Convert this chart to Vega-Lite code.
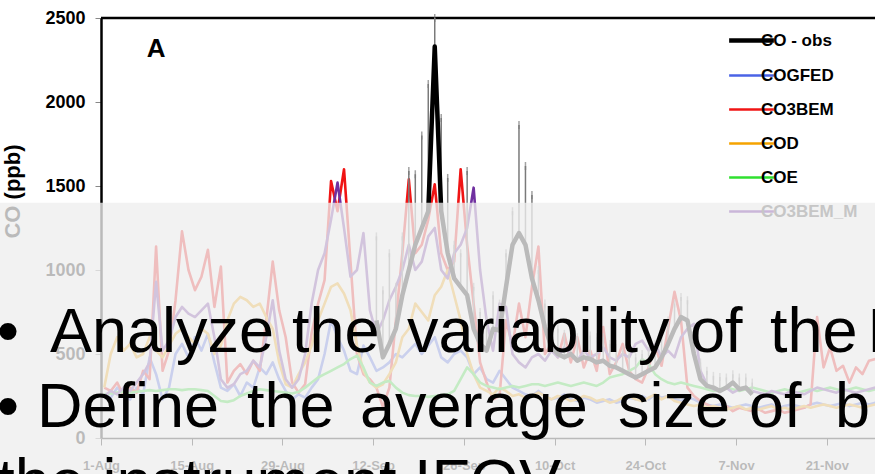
{
  "$schema": "https://vega.github.io/schema/vega-lite/v6.json",
  "width": 774,
  "height": 420,
  "autosize": {"type": "none"},
  "padding": {"left": 101, "top": 18, "right": 0, "bottom": 36},
  "background": "#ffffff",
  "config": {
    "view": {"stroke": null},
    "font": "Liberation Sans",
    "axis": {"grid": false, "labelFont": "Liberation Sans", "titleFont": "Liberation Sans"}
  },
  "datasets": {
    "models": [
      {"date": "2010-08-01T12:00", "COGFED": 260, "CO3BEM": 300, "COD": 300, "COE": 260, "CO3BEM_M": 250},
      {"date": "2010-08-02T12:00", "COGFED": 240, "CO3BEM": 280, "COD": 500, "COE": 265, "CO3BEM_M": 280},
      {"date": "2010-08-03T12:00", "COGFED": 300, "CO3BEM": 330, "COD": 600, "COE": 270, "CO3BEM_M": 260},
      {"date": "2010-08-04T12:00", "COGFED": 260, "CO3BEM": 250, "COD": 520, "COE": 275, "CO3BEM_M": 300},
      {"date": "2010-08-05T12:00", "COGFED": 230, "CO3BEM": 300, "COD": 560, "COE": 270, "CO3BEM_M": 280},
      {"date": "2010-08-06T12:00", "COGFED": 300, "CO3BEM": 270, "COD": 480, "COE": 275, "CO3BEM_M": 330},
      {"date": "2010-08-07T12:00", "COGFED": 260, "CO3BEM": 400, "COD": 500, "COE": 280, "CO3BEM_M": 380},
      {"date": "2010-08-08T12:00", "COGFED": 480, "CO3BEM": 350, "COD": 600, "COE": 285, "CO3BEM_M": 450},
      {"date": "2010-08-09T12:00", "COGFED": 380, "CO3BEM": 1140, "COD": 520, "COE": 280, "CO3BEM_M": 930},
      {"date": "2010-08-10T12:00", "COGFED": 230, "CO3BEM": 400, "COD": 480, "COE": 285, "CO3BEM_M": 520},
      {"date": "2010-08-11T12:00", "COGFED": 300, "CO3BEM": 520, "COD": 550, "COE": 290, "CO3BEM_M": 580},
      {"date": "2010-08-12T12:00", "COGFED": 500, "CO3BEM": 820, "COD": 620, "COE": 290, "CO3BEM_M": 720},
      {"date": "2010-08-13T12:00", "COGFED": 560, "CO3BEM": 1230, "COD": 650, "COE": 285, "CO3BEM_M": 780},
      {"date": "2010-08-14T12:00", "COGFED": 480, "CO3BEM": 1000, "COD": 600, "COE": 290, "CO3BEM_M": 740},
      {"date": "2010-08-15T12:00", "COGFED": 600, "CO3BEM": 880, "COD": 560, "COE": 290, "CO3BEM_M": 720},
      {"date": "2010-08-16T12:00", "COGFED": 520, "CO3BEM": 960, "COD": 650, "COE": 285, "CO3BEM_M": 760},
      {"date": "2010-08-17T12:00", "COGFED": 620, "CO3BEM": 1120, "COD": 620, "COE": 280, "CO3BEM_M": 800},
      {"date": "2010-08-18T12:00", "COGFED": 450, "CO3BEM": 780, "COD": 500, "COE": 250, "CO3BEM_M": 600},
      {"date": "2010-08-19T12:00", "COGFED": 300, "CO3BEM": 1020, "COD": 550, "COE": 220, "CO3BEM_M": 350},
      {"date": "2010-08-20T12:00", "COGFED": 280, "CO3BEM": 330, "COD": 700, "COE": 215, "CO3BEM_M": 300},
      {"date": "2010-08-21T12:00", "COGFED": 320, "CO3BEM": 400, "COD": 800, "COE": 225, "CO3BEM_M": 320},
      {"date": "2010-08-22T12:00", "COGFED": 250, "CO3BEM": 440, "COD": 840, "COE": 250, "CO3BEM_M": 380},
      {"date": "2010-08-23T12:00", "COGFED": 330, "CO3BEM": 380, "COD": 820, "COE": 265, "CO3BEM_M": 400},
      {"date": "2010-08-24T12:00", "COGFED": 300, "CO3BEM": 460, "COD": 780, "COE": 280, "CO3BEM_M": 460},
      {"date": "2010-08-25T12:00", "COGFED": 420, "CO3BEM": 400, "COD": 800, "COE": 290, "CO3BEM_M": 420},
      {"date": "2010-08-26T12:00", "COGFED": 380, "CO3BEM": 700, "COD": 720, "COE": 285, "CO3BEM_M": 600},
      {"date": "2010-08-27T12:00", "COGFED": 450, "CO3BEM": 1050, "COD": 650, "COE": 280, "CO3BEM_M": 820},
      {"date": "2010-08-28T12:00", "COGFED": 350, "CO3BEM": 760, "COD": 450, "COE": 275, "CO3BEM_M": 520},
      {"date": "2010-08-29T12:00", "COGFED": 280, "CO3BEM": 600, "COD": 320, "COE": 270, "CO3BEM_M": 350},
      {"date": "2010-08-30T12:00", "COGFED": 230, "CO3BEM": 330, "COD": 300, "COE": 265, "CO3BEM_M": 300},
      {"date": "2010-08-31T12:00", "COGFED": 260, "CO3BEM": 270, "COD": 380, "COE": 275, "CO3BEM_M": 350},
      {"date": "2010-09-01T12:00", "COGFED": 240, "CO3BEM": 320, "COD": 450, "COE": 300, "CO3BEM_M": 500},
      {"date": "2010-09-02T12:00", "COGFED": 300, "CO3BEM": 625, "COD": 550, "COE": 330, "CO3BEM_M": 800},
      {"date": "2010-09-03T12:00", "COGFED": 350, "CO3BEM": 800, "COD": 700, "COE": 360, "CO3BEM_M": 1000},
      {"date": "2010-09-04T12:00", "COGFED": 500, "CO3BEM": 940, "COD": 800, "COE": 380, "CO3BEM_M": 1100},
      {"date": "2010-09-05T12:00", "COGFED": 700, "CO3BEM": 1530, "COD": 900, "COE": 400, "CO3BEM_M": 1300},
      {"date": "2010-09-06T12:00", "COGFED": 600, "CO3BEM": 1350, "COD": 920, "COE": 420, "CO3BEM_M": 1520},
      {"date": "2010-09-07T12:00", "COGFED": 520, "CO3BEM": 1600, "COD": 860, "COE": 440, "CO3BEM_M": 1250},
      {"date": "2010-09-08T12:00", "COGFED": 400, "CO3BEM": 1050, "COD": 760, "COE": 470, "CO3BEM_M": 960},
      {"date": "2010-09-09T12:00", "COGFED": 380, "CO3BEM": 500, "COD": 550, "COE": 490, "CO3BEM_M": 1000},
      {"date": "2010-09-10T12:00", "COGFED": 550, "CO3BEM": 380, "COD": 400, "COE": 420, "CO3BEM_M": 1220},
      {"date": "2010-09-11T12:00", "COGFED": 480, "CO3BEM": 350, "COD": 330, "COE": 330, "CO3BEM_M": 760},
      {"date": "2010-09-12T12:00", "COGFED": 400, "CO3BEM": 300, "COD": 300, "COE": 310, "CO3BEM_M": 620},
      {"date": "2010-09-13T12:00", "COGFED": 420, "CO3BEM": 185, "COD": 320, "COE": 330, "CO3BEM_M": 700},
      {"date": "2010-09-14T12:00", "COGFED": 450, "CO3BEM": 300, "COD": 380, "COE": 340, "CO3BEM_M": 820},
      {"date": "2010-09-15T12:00", "COGFED": 500, "CO3BEM": 700, "COD": 450, "COE": 300, "CO3BEM_M": 900},
      {"date": "2010-09-16T12:00", "COGFED": 480, "CO3BEM": 1100, "COD": 600, "COE": 270, "CO3BEM_M": 1000},
      {"date": "2010-09-17T12:00", "COGFED": 520, "CO3BEM": 1540, "COD": 650, "COE": 255, "CO3BEM_M": 1150},
      {"date": "2010-09-18T12:00", "COGFED": 560, "CO3BEM": 1100, "COD": 800, "COE": 250, "CO3BEM_M": 1000},
      {"date": "2010-09-19T12:00", "COGFED": 500, "CO3BEM": 1150, "COD": 750, "COE": 250, "CO3BEM_M": 1050},
      {"date": "2010-09-20T12:00", "COGFED": 550, "CO3BEM": 1300, "COD": 700, "COE": 245, "CO3BEM_M": 1200},
      {"date": "2010-09-21T12:00", "COGFED": 600, "CO3BEM": 1510, "COD": 850, "COE": 250, "CO3BEM_M": 1250},
      {"date": "2010-09-22T12:00", "COGFED": 480, "CO3BEM": 1100, "COD": 900, "COE": 255, "CO3BEM_M": 1000},
      {"date": "2010-09-23T12:00", "COGFED": 450, "CO3BEM": 1000, "COD": 1000, "COE": 260, "CO3BEM_M": 950},
      {"date": "2010-09-24T12:00", "COGFED": 500, "CO3BEM": 1050, "COD": 850, "COE": 280, "CO3BEM_M": 1100},
      {"date": "2010-09-25T12:00", "COGFED": 520, "CO3BEM": 1600, "COD": 700, "COE": 350, "CO3BEM_M": 1150},
      {"date": "2010-09-26T12:00", "COGFED": 480, "CO3BEM": 1150, "COD": 500, "COE": 420, "CO3BEM_M": 1250},
      {"date": "2010-09-27T12:00", "COGFED": 380, "CO3BEM": 800, "COD": 380, "COE": 380, "CO3BEM_M": 1490},
      {"date": "2010-09-28T12:00", "COGFED": 420, "CO3BEM": 450, "COD": 300, "COE": 330, "CO3BEM_M": 1000},
      {"date": "2010-09-29T12:00", "COGFED": 350, "CO3BEM": 330, "COD": 280, "COE": 310, "CO3BEM_M": 700},
      {"date": "2010-09-30T12:00", "COGFED": 330, "CO3BEM": 230, "COD": 260, "COE": 300, "CO3BEM_M": 520},
      {"date": "2010-10-01T12:00", "COGFED": 400, "CO3BEM": 250, "COD": 300, "COE": 290, "CO3BEM_M": 800},
      {"date": "2010-10-02T12:00", "COGFED": 350, "CO3BEM": 700, "COD": 280, "COE": 300, "CO3BEM_M": 780},
      {"date": "2010-10-03T12:00", "COGFED": 300, "CO3BEM": 550, "COD": 250, "COE": 310, "CO3BEM_M": 500},
      {"date": "2010-10-04T12:00", "COGFED": 280, "CO3BEM": 800, "COD": 260, "COE": 300, "CO3BEM_M": 450},
      {"date": "2010-10-05T12:00", "COGFED": 260, "CO3BEM": 600, "COD": 240, "COE": 310, "CO3BEM_M": 420},
      {"date": "2010-10-06T12:00", "COGFED": 250, "CO3BEM": 900, "COD": 250, "COE": 320, "CO3BEM_M": 480},
      {"date": "2010-10-07T12:00", "COGFED": 280, "CO3BEM": 1140, "COD": 270, "COE": 320, "CO3BEM_M": 500},
      {"date": "2010-10-08T12:00", "COGFED": 250, "CO3BEM": 500, "COD": 250, "COE": 310, "CO3BEM_M": 460},
      {"date": "2010-10-09T12:00", "COGFED": 230, "CO3BEM": 560, "COD": 230, "COE": 320, "CO3BEM_M": 520},
      {"date": "2010-10-10T12:00", "COGFED": 240, "CO3BEM": 480, "COD": 250, "COE": 330, "CO3BEM_M": 480},
      {"date": "2010-10-11T12:00", "COGFED": 260, "CO3BEM": 620, "COD": 240, "COE": 320, "CO3BEM_M": 540},
      {"date": "2010-10-12T12:00", "COGFED": 230, "CO3BEM": 450, "COD": 220, "COE": 310, "CO3BEM_M": 500},
      {"date": "2010-10-13T12:00", "COGFED": 220, "CO3BEM": 600, "COD": 230, "COE": 320, "CO3BEM_M": 460},
      {"date": "2010-10-14T12:00", "COGFED": 240, "CO3BEM": 420, "COD": 250, "COE": 330, "CO3BEM_M": 520},
      {"date": "2010-10-15T12:00", "COGFED": 230, "CO3BEM": 520, "COD": 240, "COE": 320, "CO3BEM_M": 480},
      {"date": "2010-10-16T12:00", "COGFED": 210, "CO3BEM": 400, "COD": 220, "COE": 310, "CO3BEM_M": 500},
      {"date": "2010-10-17T12:00", "COGFED": 220, "CO3BEM": 660, "COD": 230, "COE": 330, "CO3BEM_M": 540},
      {"date": "2010-10-18T12:00", "COGFED": 230, "CO3BEM": 380, "COD": 210, "COE": 360, "CO3BEM_M": 480},
      {"date": "2010-10-19T12:00", "COGFED": 210, "CO3BEM": 450, "COD": 220, "COE": 370, "CO3BEM_M": 460},
      {"date": "2010-10-20T12:00", "COGFED": 220, "CO3BEM": 560, "COD": 240, "COE": 380, "CO3BEM_M": 500},
      {"date": "2010-10-21T12:00", "COGFED": 240, "CO3BEM": 400, "COD": 250, "COE": 400, "CO3BEM_M": 480},
      {"date": "2010-10-22T12:00", "COGFED": 230, "CO3BEM": 350, "COD": 230, "COE": 420, "CO3BEM_M": 560},
      {"date": "2010-10-23T12:00", "COGFED": 250, "CO3BEM": 330, "COD": 220, "COE": 470, "CO3BEM_M": 580},
      {"date": "2010-10-24T12:00", "COGFED": 230, "CO3BEM": 420, "COD": 240, "COE": 440, "CO3BEM_M": 520},
      {"date": "2010-10-25T12:00", "COGFED": 260, "CO3BEM": 550, "COD": 260, "COE": 380, "CO3BEM_M": 560},
      {"date": "2010-10-26T12:00", "COGFED": 240, "CO3BEM": 430, "COD": 230, "COE": 350, "CO3BEM_M": 480},
      {"date": "2010-10-27T12:00", "COGFED": 250, "CO3BEM": 650, "COD": 250, "COE": 330, "CO3BEM_M": 520},
      {"date": "2010-10-28T12:00", "COGFED": 230, "CO3BEM": 870, "COD": 220, "COE": 320, "CO3BEM_M": 480},
      {"date": "2010-10-29T12:00", "COGFED": 220, "CO3BEM": 700, "COD": 210, "COE": 330, "CO3BEM_M": 600},
      {"date": "2010-10-30T12:00", "COGFED": 240, "CO3BEM": 300, "COD": 200, "COE": 320, "CO3BEM_M": 650},
      {"date": "2010-10-31T12:00", "COGFED": 230, "CO3BEM": 250, "COD": 190, "COE": 310, "CO3BEM_M": 680},
      {"date": "2010-11-01T12:00", "COGFED": 210, "CO3BEM": 220, "COD": 200, "COE": 300, "CO3BEM_M": 400},
      {"date": "2010-11-02T12:00", "COGFED": 200, "CO3BEM": 200, "COD": 180, "COE": 290, "CO3BEM_M": 320},
      {"date": "2010-11-03T12:00", "COGFED": 190, "CO3BEM": 180, "COD": 190, "COE": 280, "CO3BEM_M": 290},
      {"date": "2010-11-04T12:00", "COGFED": 200, "CO3BEM": 170, "COD": 180, "COE": 290, "CO3BEM_M": 280},
      {"date": "2010-11-05T12:00", "COGFED": 190, "CO3BEM": 190, "COD": 170, "COE": 300, "CO3BEM_M": 300},
      {"date": "2010-11-06T12:00", "COGFED": 180, "CO3BEM": 160, "COD": 180, "COE": 290, "CO3BEM_M": 270},
      {"date": "2010-11-07T12:00", "COGFED": 190, "CO3BEM": 180, "COD": 190, "COE": 280, "CO3BEM_M": 290},
      {"date": "2010-11-08T12:00", "COGFED": 200, "CO3BEM": 170, "COD": 170, "COE": 290, "CO3BEM_M": 300},
      {"date": "2010-11-09T12:00", "COGFED": 190, "CO3BEM": 160, "COD": 180, "COE": 300, "CO3BEM_M": 280},
      {"date": "2010-11-10T12:00", "COGFED": 180, "CO3BEM": 170, "COD": 170, "COE": 290, "CO3BEM_M": 270},
      {"date": "2010-11-11T12:00", "COGFED": 190, "CO3BEM": 150, "COD": 180, "COE": 280, "CO3BEM_M": 260},
      {"date": "2010-11-12T12:00", "COGFED": 200, "CO3BEM": 160, "COD": 190, "COE": 270, "CO3BEM_M": 280},
      {"date": "2010-11-13T12:00", "COGFED": 180, "CO3BEM": 170, "COD": 170, "COE": 280, "CO3BEM_M": 270},
      {"date": "2010-11-14T12:00", "COGFED": 190, "CO3BEM": 150, "COD": 180, "COE": 290, "CO3BEM_M": 260},
      {"date": "2010-11-15T12:00", "COGFED": 200, "CO3BEM": 160, "COD": 170, "COE": 280, "CO3BEM_M": 280},
      {"date": "2010-11-16T12:00", "COGFED": 190, "CO3BEM": 170, "COD": 180, "COE": 270, "CO3BEM_M": 270},
      {"date": "2010-11-17T12:00", "COGFED": 180, "CO3BEM": 180, "COD": 190, "COE": 280, "CO3BEM_M": 260},
      {"date": "2010-11-18T12:00", "COGFED": 200, "CO3BEM": 200, "COD": 180, "COE": 290, "CO3BEM_M": 280},
      {"date": "2010-11-19T12:00", "COGFED": 210, "CO3BEM": 720, "COD": 190, "COE": 280, "CO3BEM_M": 300},
      {"date": "2010-11-20T12:00", "COGFED": 200, "CO3BEM": 420, "COD": 200, "COE": 290, "CO3BEM_M": 290},
      {"date": "2010-11-21T12:00", "COGFED": 190, "CO3BEM": 540, "COD": 190, "COE": 300, "CO3BEM_M": 280},
      {"date": "2010-11-22T12:00", "COGFED": 200, "CO3BEM": 400, "COD": 180, "COE": 290, "CO3BEM_M": 270},
      {"date": "2010-11-23T12:00", "COGFED": 210, "CO3BEM": 430, "COD": 190, "COE": 280, "CO3BEM_M": 290},
      {"date": "2010-11-24T12:00", "COGFED": 190, "CO3BEM": 330, "COD": 200, "COE": 290, "CO3BEM_M": 280},
      {"date": "2010-11-25T12:00", "COGFED": 200, "CO3BEM": 420, "COD": 190, "COE": 300, "CO3BEM_M": 270},
      {"date": "2010-11-26T12:00", "COGFED": 210, "CO3BEM": 380, "COD": 180, "COE": 290, "CO3BEM_M": 280},
      {"date": "2010-11-27T12:00", "COGFED": 200, "CO3BEM": 460, "COD": 190, "COE": 280, "CO3BEM_M": 290},
      {"date": "2010-11-28T12:00", "COGFED": 210, "CO3BEM": 470, "COD": 200, "COE": 290, "CO3BEM_M": 300}
    ],
    "obs": [
      {"date": "2010-09-12T12:00", "ppb": 700, "hi": 1200},
      {"date": "2010-09-13T12:00", "ppb": 480, "hi": 880},
      {"date": "2010-09-14T12:00", "ppb": 560, "hi": 1100},
      {"date": "2010-09-15T12:00", "ppb": 650, "hi": 900},
      {"date": "2010-09-16T12:00", "ppb": 850, "hi": 1200},
      {"date": "2010-09-17T12:00", "ppb": 1000, "hi": 1590},
      {"date": "2010-09-18T12:00", "ppb": 1150, "hi": 1570},
      {"date": "2010-09-19T12:00", "ppb": 1250, "hi": 1800},
      {"date": "2010-09-20T12:00", "ppb": 1350, "hi": 2107},
      {"date": "2010-09-21T12:00", "ppb": 2330, "hi": 2500},
      {"date": "2010-09-22T12:00", "ppb": 1350, "hi": 1905},
      {"date": "2010-09-23T12:00", "ppb": 1100, "hi": 1548},
      {"date": "2010-09-24T12:00", "ppb": 950, "hi": 1150},
      {"date": "2010-09-25T12:00", "ppb": 900, "hi": 1100},
      {"date": "2010-09-26T12:00", "ppb": 850, "hi": 1590},
      {"date": "2010-09-27T12:00", "ppb": 650, "hi": 900},
      {"date": "2010-09-28T12:00", "ppb": 560, "hi": 750},
      {"date": "2010-09-29T12:00", "ppb": 520, "hi": 700},
      {"date": "2010-09-30T12:00", "ppb": 650, "hi": 850},
      {"date": "2010-10-01T12:00", "ppb": 640, "hi": 800},
      {"date": "2010-10-02T12:00", "ppb": 900, "hi": 1100},
      {"date": "2010-10-03T12:00", "ppb": 1150, "hi": 1350},
      {"date": "2010-10-04T12:00", "ppb": 1220, "hi": 1863},
      {"date": "2010-10-05T12:00", "ppb": 1150, "hi": 1619},
      {"date": "2010-10-06T12:00", "ppb": 950, "hi": 1446},
      {"date": "2010-10-07T12:00", "ppb": 820, "hi": 1000},
      {"date": "2010-10-08T12:00", "ppb": 660, "hi": 800},
      {"date": "2010-10-09T12:00", "ppb": 540, "hi": 700},
      {"date": "2010-10-10T12:00", "ppb": 500, "hi": 650},
      {"date": "2010-10-11T12:00", "ppb": 480, "hi": 620},
      {"date": "2010-10-12T12:00", "ppb": 500, "hi": 640},
      {"date": "2010-10-13T12:00", "ppb": 460, "hi": 600},
      {"date": "2010-10-14T12:00", "ppb": 480, "hi": 620},
      {"date": "2010-10-15T12:00", "ppb": 470, "hi": 610},
      {"date": "2010-10-16T12:00", "ppb": 450, "hi": 600},
      {"date": "2010-10-17T12:00", "ppb": 460, "hi": 600},
      {"date": "2010-10-18T12:00", "ppb": 430, "hi": 560},
      {"date": "2010-10-19T12:00", "ppb": 420, "hi": 560},
      {"date": "2010-10-20T12:00", "ppb": 400, "hi": 520},
      {"date": "2010-10-21T12:00", "ppb": 380, "hi": 500},
      {"date": "2010-10-22T12:00", "ppb": 360, "hi": 480},
      {"date": "2010-10-23T12:00", "ppb": 380, "hi": 500},
      {"date": "2010-10-24T12:00", "ppb": 400, "hi": 520},
      {"date": "2010-10-25T12:00", "ppb": 420, "hi": 560},
      {"date": "2010-10-26T12:00", "ppb": 480, "hi": 600},
      {"date": "2010-10-27T12:00", "ppb": 560, "hi": 700},
      {"date": "2010-10-28T12:00", "ppb": 650, "hi": 800},
      {"date": "2010-10-29T12:00", "ppb": 720, "hi": 840},
      {"date": "2010-10-30T12:00", "ppb": 700, "hi": 820},
      {"date": "2010-10-31T12:00", "ppb": 500, "hi": 650},
      {"date": "2010-11-01T12:00", "ppb": 350, "hi": 450},
      {"date": "2010-11-02T12:00", "ppb": 310, "hi": 400},
      {"date": "2010-11-03T12:00", "ppb": 300, "hi": 370},
      {"date": "2010-11-04T12:00", "ppb": 280, "hi": 363},
      {"date": "2010-11-05T12:00", "ppb": 300, "hi": 360},
      {"date": "2010-11-06T12:00", "ppb": 330, "hi": 380},
      {"date": "2010-11-07T12:00", "ppb": 290, "hi": 360},
      {"date": "2010-11-08T12:00", "ppb": 300, "hi": 360},
      {"date": "2010-11-09T12:00", "ppb": 260, "hi": 330}
    ],
    "frame": [
      {"date": "2010-08-01T00:00", "date2": "2010-11-28T10:30", "ppb": 2500}
    ],
    "panelLabel": [
      {"date": "2010-08-09T11:45", "ppb": 2268, "word": "A"}
    ],
    "veil": [
      {"date": "2010-07-01T00:00", "date2": "2010-12-31T00:00", "ppb": 1400, "ppb2": -800}
    ],
    "bullets": [
      {"date": "2010-07-15T22:50", "ppb": 512, "word": "•"},
      {"date": "2010-07-24T03:00", "ppb": 512, "word": "Analyze"},
      {"date": "2010-08-30T11:30", "ppb": 512, "word": "the"},
      {"date": "2010-09-17T05:20", "ppb": 512, "word": "variability"},
      {"date": "2010-10-30T21:40", "ppb": 512, "word": "of"},
      {"date": "2010-11-12T05:50", "ppb": 512, "word": "the"},
      {"date": "2010-11-27T05:00", "ppb": 512, "word": "I"},
      {"date": "2010-07-15T22:50", "ppb": 65, "word": "•"},
      {"date": "2010-07-22T03:00", "ppb": 65, "word": "Define"},
      {"date": "2010-08-23T12:45", "ppb": 65, "word": "the"},
      {"date": "2010-09-09T23:15", "ppb": 65, "word": "average"},
      {"date": "2010-10-19T18:45", "ppb": 65, "word": "size"},
      {"date": "2010-11-09T00:00", "ppb": 65, "word": "of"},
      {"date": "2010-11-22T06:00", "ppb": 65, "word": "b"},
      {"date": "2010-07-16T00:00", "ppb": -385, "word": "the instrument IFOV"}
    ]
  },
  "encoding": {
    "x": {
      "field": "date",
      "type": "temporal",
      "scale": {
        "domain": [
          {"year": 2010, "month": 8, "date": 1},
          {"year": 2010, "month": 11, "date": 28, "hours": 10, "minutes": 30}
        ],
        "nice": false
      },
      "axis": {
        "title": null,
        "format": "%-d-%b",
        "values": [
          {"year": 2010, "month": 8, "date": 1},
          {"year": 2010, "month": 8, "date": 15},
          {"year": 2010, "month": 8, "date": 29},
          {"year": 2010, "month": 9, "date": 12},
          {"year": 2010, "month": 9, "date": 26},
          {"year": 2010, "month": 10, "date": 10},
          {"year": 2010, "month": 10, "date": 24},
          {"year": 2010, "month": 11, "date": 7},
          {"year": 2010, "month": 11, "date": 21}
        ],
        "labelFontSize": 13,
        "labelFontWeight": "bold",
        "labelColor": "#000000",
        "labelPadding": 14,
        "labelFlush": false,
        "labelOverlap": false,
        "tickSize": 7,
        "tickColor": "#000000",
        "domainColor": "#000000",
        "domainWidth": 1.5
      }
    },
    "y": {
      "field": "ppb",
      "type": "quantitative",
      "scale": {"domain": [0, 2500], "nice": false, "zero": true},
      "axis": {
        "title": "CO (ppb)",
        "titleFontSize": 22,
        "titleFontWeight": "bold",
        "titleColor": "#000000",
        "titleX": -77,
        "titleY": 173,
        "values": [0, 500, 1000, 1500, 2000, 2500],
        "format": "d",
        "labelFontSize": 18,
        "labelFontWeight": "bold",
        "labelColor": "#000000",
        "labelPadding": 10,
        "tickSize": 6,
        "tickColor": "#888888",
        "domainColor": "#000000",
        "domainWidth": 2.5
      }
    }
  },
  "layer": [
    {
      "data": {"name": "frame"},
      "mark": {"type": "rule", "stroke": "#000000", "strokeWidth": 2.5},
      "encoding": {"x2": {"field": "date2"}}
    },
    {
      "data": {"name": "models"},
      "transform": [
        {"fold": ["COGFED", "CO3BEM", "COD", "COE", "CO3BEM_M"], "as": ["series", "ppb"]}
      ],
      "mark": {"type": "line", "strokeWidth": 2.6, "strokeJoin": "round"},
      "encoding": {
        "color": {
          "field": "series",
          "type": "nominal",
          "scale": {
            "domain": ["CO - obs", "COGFED", "CO3BEM", "COD", "COE", "CO3BEM_M"],
            "range": ["#000000", "#4a63e6", "#f01414", "#f5a300", "#2fe02f", "#7030a0"]
          },
          "legend": {
            "title": null,
            "orient": "none",
            "legendX": 642,
            "legendY": 14,
            "padding": 0,
            "symbolType": "stroke",
            "symbolSize": 2000,
            "symbolStrokeWidth": 2.5,
            "rowPadding": 16,
            "labelFont": "Liberation Sans",
            "labelFontSize": 17,
            "labelFontWeight": "bold",
            "labelOffset": 1,
            "labelColor": "#000000",
            "encode": {
              "labels": {"update": {"fill": {"signal": "datum.label === 'CO3BEM_M' ? '#c6c6c6' : '#000000'"}}},
              "symbols": {"update": {
                "strokeWidth": {"signal": "datum.label === 'CO - obs' ? 4.5 : 2.5"},
                "opacity": {"signal": "datum.label === 'CO3BEM_M' ? 0.3 : 1"}
              }}
            }
          }
        },
        "order": {"field": "date", "type": "temporal"}
      }
    },
    {
      "data": {"name": "obs"},
      "mark": {"type": "rule", "stroke": "#7a7a7a", "strokeWidth": 1.5},
      "encoding": {"y2": {"field": "hi"}}
    },
    {
      "data": {"name": "obs"},
      "mark": {"type": "tick", "orient": "vertical", "color": "#7a7a7a", "size": 8, "thickness": 1.5},
      "encoding": {"y": {"field": "hi", "type": "quantitative"}}
    },
    {
      "data": {"name": "obs"},
      "mark": {"type": "line", "strokeWidth": 4.5, "strokeJoin": "round"},
      "encoding": {"color": {"datum": "CO - obs", "type": "nominal"}}
    },
    {
      "data": {"name": "panelLabel"},
      "mark": {"type": "text", "align": "center", "baseline": "alphabetic", "font": "Liberation Sans", "fontSize": 26, "fontWeight": "bold", "color": "#000000"},
      "encoding": {"text": {"field": "word"}}
    },
    {
      "data": {"name": "veil"},
      "mark": {"type": "rect", "fill": "#eeeeee", "opacity": 0.78},
      "encoding": {"x2": {"field": "date2"}, "y2": {"field": "ppb2"}}
    },
    {
      "data": {"name": "bullets"},
      "mark": {"type": "text", "align": "left", "baseline": "alphabetic", "font": "Liberation Sans", "fontSize": 63, "color": "#000000"},
      "encoding": {"text": {"field": "word"}}
    }
  ]
}
